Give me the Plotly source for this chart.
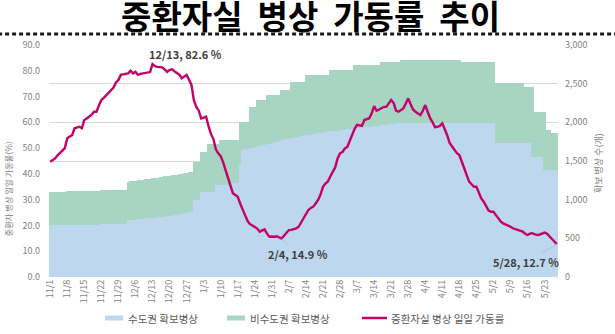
import pandas as pd
import plotly.graph_objects as go

# Daily ICU occupancy rate (%), 2021-11-01 .. 2022-05-28
occupancy = [
    44.7, 45.3, 46.0, 47.2, 48.0, 49.0, 50.0, 53.8, 54.5, 55.0, 57.7, 58.0, 58.3, 57.7,
    60.9, 61.5, 62.2, 63.0, 64.1, 64.1, 66.5, 68.7, 69.5, 70.6, 71.5, 72.5, 73.5, 75.5,
    76.4, 78.4, 78.7, 78.8, 79.0, 80.0, 79.0, 79.6, 78.4, 78.8, 79.0, 79.0, 79.2, 79.5,
    82.6, 81.8, 81.5, 81.3, 81.3, 80.5, 79.6, 80.3, 80.6, 79.8, 79.0, 78.5, 77.1, 77.8,
    78.4, 76.5, 74.5, 68.5, 66.0, 64.5, 61.5, 61.8, 62.2, 58.5, 55.5, 53.5, 49.5, 48.0,
    46.9, 44.5, 41.5, 38.5, 35.0, 32.5, 31.8, 31.1, 28.5, 26.0, 24.0, 21.8, 20.5, 20.0,
    19.5, 18.8, 17.6, 18.0, 18.5, 16.8, 15.6, 15.7, 15.6, 15.8, 15.5, 14.9, 16.0, 17.2,
    18.2, 18.3, 18.5, 18.9, 19.5, 21.0, 23.0, 24.5, 26.0, 26.8, 27.3, 28.5, 29.9, 32.0,
    35.0, 36.2, 37.0, 39.0, 40.8, 42.5, 46.0, 48.0, 48.5, 49.9, 50.5, 53.0, 55.5, 57.5,
    59.0, 58.8, 58.6, 60.9, 61.2, 61.6, 63.5, 66.3, 64.5, 65.0, 65.5, 66.0, 66.0, 67.2,
    68.7, 67.5, 64.5, 64.1, 64.8, 65.4, 67.3, 69.3, 67.0, 65.0, 64.1, 63.5, 62.8, 64.5,
    66.7, 64.0, 61.6, 60.0, 58.1, 58.3, 58.6, 59.6, 57.5, 55.0, 52.0, 50.5, 49.0, 48.0,
    47.3, 45.0, 42.2, 39.5, 37.0, 36.0, 35.0, 35.0, 33.0, 30.5, 29.2, 27.5, 25.8, 25.3,
    25.3, 24.0, 22.5, 21.5, 20.8, 20.4, 20.2, 19.5, 18.9, 18.5, 18.2, 17.8, 17.6, 16.8,
    16.3, 16.8, 17.0, 16.5, 16.3, 16.5, 16.9, 17.2, 16.8, 15.9, 14.9, 13.8, 12.7,
]

# Secured ICU beds in the capital area (daily)
capital_beds = (
    [672] * 7 + [675] * 7 + [678] * 7 + [680] * 11
    + [737, 737, 740, 742, 745, 748, 750, 755, 758, 760, 765, 768, 770, 775, 778,
       782, 786, 790, 795, 800, 805, 812, 818, 825, 832, 838, 845]
    + [996] * 3 + [1103] * 6 + [1190] * 6 + [1212] * 4 + [1450]
    + [1642, 1650, 1658, 1665, 1672, 1680, 1688, 1695, 1702, 1710, 1718, 1725,
       1733, 1742, 1750, 1760, 1771]
    + [1776, 1782, 1788, 1794, 1800, 1806, 1812, 1818, 1824, 1830, 1836, 1842,
       1848, 1853, 1858, 1863, 1868, 1874, 1879]
    + [1882, 1886, 1890, 1894, 1898, 1902, 1906, 1910, 1914, 1918, 1922, 1926,
       1930, 1934, 1937, 1940, 1943]
    + [1946, 1950, 1954, 1958, 1962, 1966, 1970, 1974, 1978, 1981, 1984, 1987]
    + [1990] * 39 + [1728] * 15 + [1555] * 5 + [1383] * 6
)

# Secured ICU beds nationwide (capital + non-capital), daily
total_beds = (
    [1103] * 7 + [1110] * 7 + [1115] * 7 + [1125] * 11
    + [1232, 1235, 1240, 1245, 1250, 1255, 1258, 1262, 1266, 1270, 1275, 1280,
       1285, 1290, 1295, 1300, 1305, 1310, 1315, 1320, 1325, 1330, 1336, 1342,
       1348, 1355, 1361]
    + [1491] * 3 + [1620] * 3 + [1720] * 5 + [1771] * 8 + [2008] * 4
    + [2202] * 3 + [2288] * 4 + [2353] * 6 + [2418] * 4 + [2525] * 6
    + [2612] * 10 + [2676] * 10 + [2741] * 11 + [2784] * 8 + [2806] * 25
    + [2784] * 14 + [2504] * 12 + [2461] * 4 + [2137] * 5 + [1900] * 2 + [1866] * 3
)

dates = pd.date_range("2021-11-01", "2022-05-28", freq="D")

tick_labels = ["11/1", "11/8", "11/15", "11/22", "11/29", "12/6", "12/13", "12/20",
               "12/27", "1/3", "1/10", "1/17", "1/24", "1/31", "2/7", "2/14", "2/21",
               "2/28", "3/7", "3/14", "3/21", "3/28", "4/4", "4/11", "4/18", "4/25",
               "5/2", "5/9", "5/16", "5/23"]
tick_dates = dates[::7]

series_names = ["수도권 확보병상", "비수도권 확보병상", "중환자실 병상 일일 가동률"]

FONT = "Noto Sans CJK KR, Noto Sans, sans-serif"
BLUE = "#BDD7EE"
GREEN = "#A8D5C3"
LINE = "#C4006A"
DAY_MS = 86400000
NB = "\u00a0"

# plot-area geometry in pixels (used to place the hand-drawn legend)
W, H = 615, 334
ML, MR, MT, MB = 49, 57, 45, 57
PW, PH = W - ML - MR, H - MT - MB


def px_to_paper(px, py):
    return (px - ML) / PW, (H - MB - py) / PH


fig = go.Figure()

# Bars live on the base (right-hand) axis; the rate line sits on the overlaying axis
fig.add_trace(go.Bar(
    x=dates, y=total_beds, width=DAY_MS, marker=dict(color=GREEN, line_width=0),
    name=series_names[1], yaxis="y",
))
fig.add_trace(go.Bar(
    x=dates, y=capital_beds, width=DAY_MS, marker=dict(color=BLUE, line_width=0),
    name=series_names[0], yaxis="y",
))
fig.add_trace(go.Scatter(
    x=dates, y=occupancy, mode="lines", line=dict(color=LINE, width=2.4),
    name=series_names[2], yaxis="y2",
))

label_font = dict(family=FONT, size=11, color="#404040")


def point_label(day_index, dx, dy, arrow):
    d = dates[day_index]
    v = occupancy[day_index]
    text = f"<b>{d.month}/{d.day}, {v:.1f} %</b>"
    if arrow:
        return dict(x=d, y=v, xref="x", yref="y2", text=text, font=label_font,
                    showarrow=True, arrowhead=0, arrowwidth=1, arrowcolor="#BFBFBF",
                    ax=dx, ay=dy)
    return dict(x=d, y=v, xref="x", yref="y2", text=text, font=label_font,
                showarrow=False, xshift=dx, yshift=-dy)


peak_idx = occupancy.index(max(occupancy))
low_idx = occupancy.index(min(occupancy[60:150]))
last_idx = len(occupancy) - 1

annotations = [
    point_label(peak_idx, 33, -10, False),
    point_label(low_idx, 16, 15, True),
    point_label(last_idx, -31, 18, True),
    dict(text="중환자 병상 일일 가동률(%)", x=-0.08, y=0.165, xref="paper", yref="paper",
         xanchor="center", yanchor="bottom", textangle=-90, showarrow=False,
         font=dict(family=FONT, size=8.3, color="#7F7F7F")),
    dict(text="확보 병상 수(개)", x=1.08, y=0.49, xref="paper", yref="paper",
         xanchor="center", yanchor="middle", textangle=-90, showarrow=False,
         font=dict(family=FONT, size=9, color="#7F7F7F")),
]

shapes = [
    # dotted rule under the heading
    dict(type="line", xref="paper", yref="paper", x0=-0.1, x1=1.12,
         y0=px_to_paper(0, 34)[1], y1=px_to_paper(0, 34)[1],
         line=dict(color="#1A1A1A", width=3, dash="4px,3px")),
]

# legend drawn by hand: flat swatches and a short line, centred under the plot
legend_y = 318
legend_items = [
    (series_names[0], "rect", BLUE, 105, 123, 126),
    (series_names[1], "rect", GREEN, 227, 245, 248),
    (series_names[2], "line", LINE, 362, 387, 389),
]
for name, kind, color, sx0, sx1, tx in legend_items:
    x0, _ = px_to_paper(sx0, 0)
    x1, _ = px_to_paper(sx1, 0)
    if kind == "rect":
        _, y0 = px_to_paper(0, legend_y + 2.5)
        _, y1 = px_to_paper(0, legend_y - 2.5)
        shapes.append(dict(type="rect", xref="paper", yref="paper", x0=x0, x1=x1,
                           y0=y0, y1=y1, fillcolor=color, line_width=0))
    else:
        _, yl = px_to_paper(0, legend_y)
        shapes.append(dict(type="line", xref="paper", yref="paper", x0=x0, x1=x1,
                           y0=yl, y1=yl, line=dict(color=color, width=2.5)))
    txp, typ = px_to_paper(tx, legend_y)
    annotations.append(dict(text=name, x=txp, y=typ, xref="paper", yref="paper",
                            xanchor="left", yanchor="middle", showarrow=False,
                            font=dict(family=FONT, size=10.5, color="#595959")))

title_text = f"<b>중환자실{NB*2}병상{NB*2}가동률{NB*2}추이</b>"

fig.update_layout(
    width=W, height=H,
    margin=dict(l=ML, r=MR, t=MT, b=MB),
    paper_bgcolor="white", plot_bgcolor="white",
    barmode="overlay", bargap=0,
    font=dict(family=FONT, color="#7F7F7F"),
    title=dict(text=title_text, x=0.505, xanchor="center",
               y=0.948, yanchor="middle", font=dict(family=FONT, size=33, color="black")),
    xaxis=dict(
        type="date",
        range=[dates[0] - pd.Timedelta(hours=12), dates[-1] + pd.Timedelta(hours=12)],
        tickvals=tick_dates, ticktext=tick_labels, tickangle=-90,
        tickfont=dict(size=9, color="#7F7F7F"), showgrid=False, zeroline=False,
        showline=False, ticks="", automargin=False,
    ),
    yaxis=dict(
        range=[0, 3000], dtick=500, tickformat=",", side="right",
        showgrid=True, gridcolor="#D9D9D9", gridwidth=1, zeroline=False,
        tickfont=dict(size=9, color="#7F7F7F"), ticks="", ticklabelstandoff=6,
        automargin=False,
    ),
    yaxis2=dict(
        range=[0, 90], dtick=10, tickformat=".1f", overlaying="y", side="left",
        showgrid=False, zeroline=False, tickfont=dict(size=9, color="#7F7F7F"),
        ticks="", ticklabelstandoff=8, automargin=False,
    ),
    annotations=annotations,
    shapes=shapes,
    showlegend=False,
)

fig.write_html("out.html")
